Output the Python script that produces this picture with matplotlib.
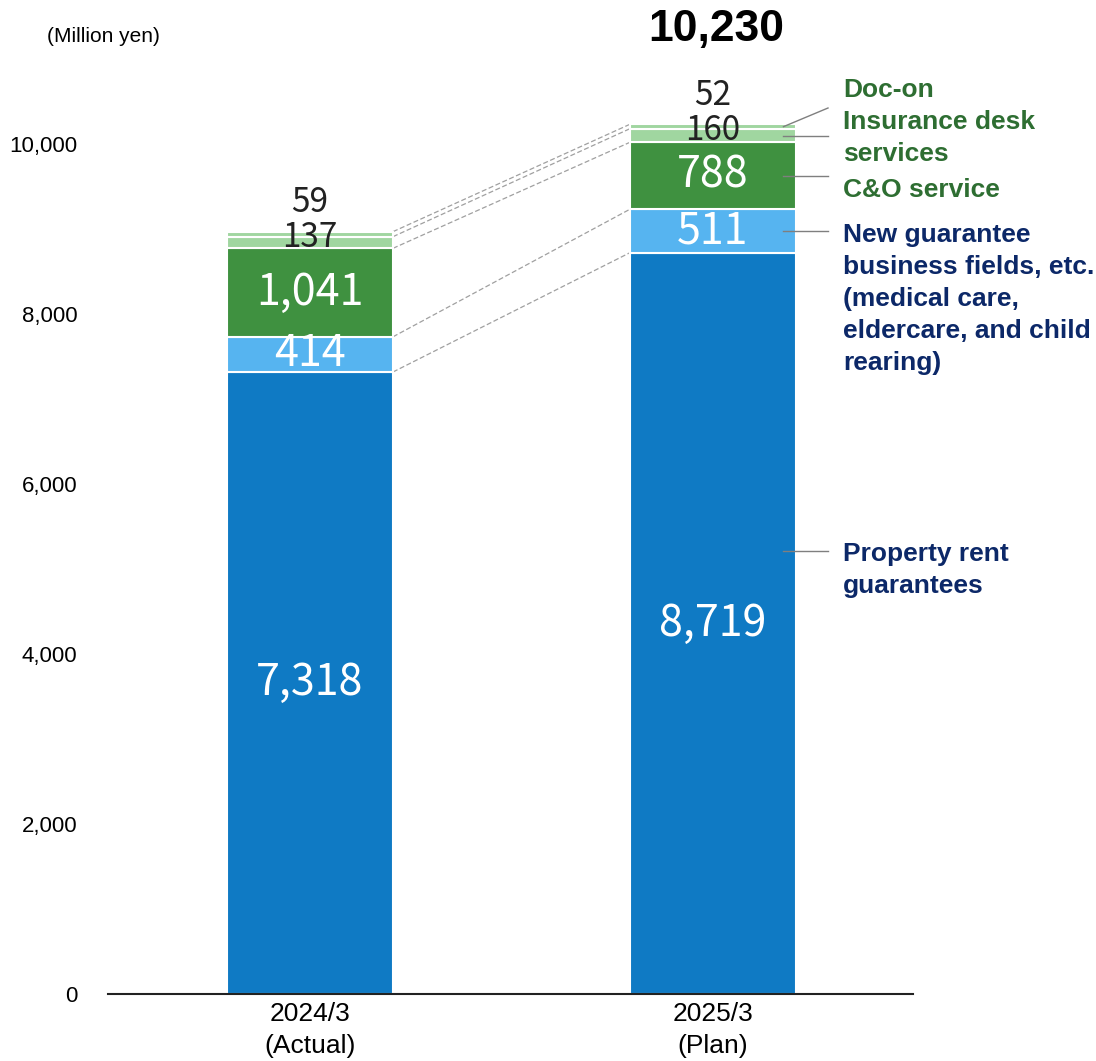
import matplotlib
matplotlib.use("Agg")
import matplotlib.pyplot as plt

categories = ["2024/3\n(Actual)", "2025/3\n(Plan)"]
series_names = ["Property rent guarantees", "New guarantee business fields", "C&O service",
                "Insurance desk services", "Doc-on"]
property_rent = [7318, 8719]
new_guarantee = [414, 511]
co_service = [1041, 788]
insurance_desk = [137, 160]
doc_on = [59, 52]
total_plan = 10230
yticks = [0, 2000, 4000, 6000, 8000, 10000]

series = [property_rent, new_guarantee, co_service, insurance_desk, doc_on]
colors = ["#0F7AC4", "#56B4F0", "#3F9140", "#A0D6A0", "#A0D6A0"]

fig = plt.figure(figsize=(10.96, 10.61), dpi=100)
ax = fig.add_axes([108/1096, 67/1061, 805/1096, 977.5/1061])
ax.set_ylim(0, 11500)
ax.set_xlim(-0.5019, 1.498)
width = 0.4124
x = [0, 1]

bottoms = [0, 0]
bounds = [[0], [0]]
for vals, c in zip(series, colors):
    ax.bar(x, vals, width=width, bottom=bottoms, color=c, edgecolor="white", linewidth=1.5, zorder=2)
    bottoms = [b + v for b, v in zip(bottoms, vals)]
    bounds[0].append(bottoms[0]); bounds[1].append(bottoms[1])

# dashed connectors
for a, b in zip(bounds[0][1:], bounds[1][1:]):
    ax.plot([width/2, 1 - width/2], [a, b], ls=(0, (4, 2)), color="#A0A0A0", lw=0.9, zorder=1)

num_font = ["Noto Sans CJK JP", "DejaVu Sans"]
# value labels
for i in range(2):
    b0 = 0
    for k, vals in enumerate(series):
        v = vals[i]
        mid = b0 + v / 2
        if k < 3:
            ax.text(x[i], mid, f"{v:,}", ha="center", va="center", color="white",
                    fontsize=31, family=num_font, zorder=3)
        b0 += v
    ins_top = property_rent[i] + new_guarantee[i] + co_service[i] + insurance_desk[i]
    ax.text(x[i], ins_top - 15, f"{insurance_desk[i]:,}", ha="center", va="center", color="#222222",
            fontsize=24, family=num_font, zorder=3)
    ax.text(x[i], ins_top + doc_on[i] + 340, f"{doc_on[i]:,}", ha="center", va="center", color="#222222",
            fontsize=24, family=num_font, zorder=3)

ax.text(1.009, total_plan + 1120, f"{total_plan:,}", ha="center", va="center", fontsize=32,
        fontweight="bold", family="Liberation Sans", color="black")

ax.set_yticks(yticks)
ax.set_yticklabels([f"{t:,}" for t in yticks], family="Liberation Sans", fontsize=16)
ax.set_xticks(x)
ax.set_xticklabels(categories, family="Liberation Sans", fontsize=19, linespacing=1.4)
ax.tick_params(axis="y", length=0, pad=22)
ax.tick_params(axis="x", length=0, pad=6)
for s in ["top", "right", "left"]:
    ax.spines[s].set_visible(False)
ax.spines["bottom"].set_linewidth(1.5)
ax.spines["bottom"].set_color("#222222")

fig.text(47/1096, 1 - 37/1061, "(Million yen)", family="Liberation Sans", fontsize=15, va="center", ha="left")

def px2data(px, py):
    inv = ax.transData.inverted()
    return inv.transform(fig.transFigure.transform((px/1096, 1 - py/1061)))

green = "#2E6E32"
navy = "#0C2868"
lc = "#7F7F7F"
xl0 = 1 + width/2 - 0.03
xl1 = px2data(828, 0)[0]
doc_y = total_plan - doc_on[1]/2
ax.plot([xl0, xl1], [doc_y, px2data(0, 108)[1]], color=lc, lw=1, clip_on=False)
ins_y = bounds[1][3] + insurance_desk[1]/2
co_y = bounds[1][2] + co_service[1]/2
ng_y = bounds[1][1] + new_guarantee[1]/2
pr_y = px2data(0, 551)[1]
for yy in [ins_y, co_y, ng_y, pr_y]:
    ax.plot([xl0, xl1], [yy, yy], color=lc, lw=1, clip_on=False)

labels = [("Doc-on", 90, green), ("Insurance desk", 122, green), ("services", 154, green),
          ("C&O service", 190, green), ("New guarantee", 235, navy), ("business fields, etc.", 267, navy),
          ("(medical care,", 299, navy), ("eldercare, and child", 331, navy), ("rearing)", 363, navy),
          ("Property rent", 554, navy), ("guarantees", 586, navy)]
for t, py, c in labels:
    fig.text(843/1096, 1 - py/1061, t, family="Liberation Sans", fontsize=19, fontweight="bold",
             color=c, ha="left", va="center")

fig.savefig("out.png", dpi=100)
